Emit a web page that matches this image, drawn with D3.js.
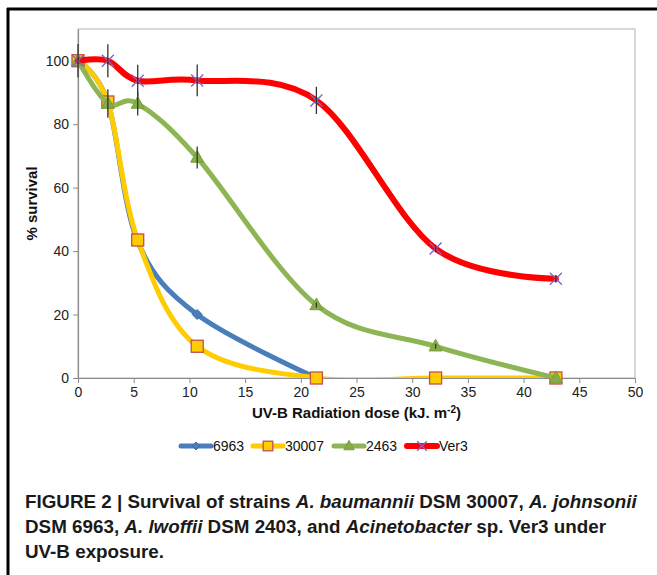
<!DOCTYPE html>
<html>
<head>
<meta charset="utf-8">
<script src="https://cdn.jsdelivr.net/npm/d3@7"></script>
<style>
  body { margin: 0; background: #fff; }
  svg { display: block; font-family: "Liberation Sans", Arial, Helvetica, sans-serif; }
</style>
</head>
<body>
<svg id="chart" width="657" height="575"></svg>
<script>
// ---- data ----
const doses = [0, 2.68, 5.36, 10.7, 21.4, 32.1, 42.9];
const s6963 = [100, 87, 43, 20, 0];
const s30007 = [100, 87, 43.5, 10, 0, 0, 0];
const s2463 = [100, 86.5, 86.5, 69.5, 23, 10, 0];
const sVer3 = [100, 100, 93.7, 93.8, 87.5, 40.8, 31.3];
const err2463 = [0, 4.5, 3.8, 3.5, 0.8, 0.8, 0];
const errVer3 = [5.3, 5.2, 5, 5, 4.3, 1.2, 1.2];
const seriesNames = ["6963", "30007", "2463", "Ver3"];
const xTicks = [0, 5, 10, 15, 20, 25, 30, 35, 40, 45, 50];
const yTicks = [0, 20, 40, 60, 80, 100];
const xTitle = "UV-B Radiation dose (kJ. m";
const yTitle = "% survival";

const svg = d3.select("#chart");
const W = 657, H = 575;

// frame
svg.append("line").attr("x1", 7).attr("x2", W).attr("y1", 9).attr("y2", 9)
  .attr("stroke", "#000").attr("stroke-width", 3);
svg.append("line").attr("x1", 8).attr("x2", 8).attr("y1", 8).attr("y2", H)
  .attr("stroke", "#000").attr("stroke-width", 3);

const x = d3.scaleLinear().domain([0, 50]).range([78, 635]);
const y = d3.scaleLinear().domain([0, 110]).range([378, 29]);

// plot area border
svg.append("rect").attr("x", x(0)).attr("y", y(110))
  .attr("width", x(50) - x(0)).attr("height", y(0) - y(110))
  .attr("fill", "none").attr("stroke", "#b3b3b3").attr("stroke-width", 1);

svg.append("clipPath").attr("id", "clip").append("rect")
  .attr("x", x(0) - 10).attr("y", y(110))
  .attr("width", x(50) - x(0) + 20).attr("height", y(0) - y(110));

// axes
const xAxis = d3.axisBottom(x).tickValues(xTicks).tickSize(5).tickSizeOuter(0).tickPadding(4);
const gx = svg.append("g").attr("transform", `translate(0,${y(0)})`).call(xAxis);
const yAxis = d3.axisLeft(y).tickValues(yTicks).tickSize(5).tickSizeOuter(0).tickPadding(4);
const gy = svg.append("g").attr("transform", `translate(${x(0)},0)`).call(yAxis);
[gx, gy].forEach(g => {
  g.select(".domain").attr("stroke", "#8c8c8c").attr("stroke-width", 1.2);
  g.selectAll(".tick line").attr("stroke", "#8c8c8c");
  g.selectAll(".tick text").attr("fill", "#222").attr("font-size", 14)
    .attr("font-family", "'Liberation Sans', Arial, sans-serif");
});

// axis titles
const xt = svg.append("text").attr("x", (x(0) + x(50)) / 2).attr("y", 418)
  .attr("text-anchor", "middle").attr("font-weight", "bold").attr("font-size", 15).attr("fill", "#111");
xt.append("tspan").text(xTitle);
xt.append("tspan").attr("dy", -5).attr("font-size", 10).text("-2");
xt.append("tspan").attr("dy", 5).text(")");

svg.append("text").attr("transform", `translate(37,${(y(0) + y(110)) / 2}) rotate(-90)`)
  .attr("text-anchor", "middle").attr("font-weight", "bold").attr("font-size", 15).attr("fill", "#111")
  .text(yTitle);

// styles
const styles = {
  "6963": { line: "#4A7EBB", width: 5, marker: "diamond", fill: "#4A7EBB", stroke: "#3f6fa8", size: 10 },
  "30007": { line: "#FFCC00", width: 5, marker: "square", fill: "#FFCC00", stroke: "#C0504D", size: 12 },
  "2463": { line: "#8DB554", width: 5, marker: "triangle", fill: "#86AD45", stroke: "#7a9e3f", size: 13 },
  "Ver3": { line: "#FF0000", width: 6, marker: "x", fill: "none", stroke: "#8064C8", size: 12 }
};
const valuesBy = { "6963": s6963, "30007": s30007, "2463": s2463, "Ver3": sVer3 };
const errBy = { "2463": err2463, "Ver3": errVer3 };

function drawMarker(g, type, cx, cy, st) {
  const s = st.size;
  if (type === "diamond") {
    g.append("path").attr("d", `M${cx},${cy - s / 2}L${cx + s / 2},${cy}L${cx},${cy + s / 2}L${cx - s / 2},${cy}Z`)
      .attr("fill", st.fill).attr("stroke", st.stroke).attr("stroke-width", 1);
  } else if (type === "square") {
    g.append("rect").attr("x", cx - s / 2).attr("y", cy - s / 2).attr("width", s).attr("height", s)
      .attr("fill", st.fill).attr("stroke", st.stroke).attr("stroke-width", 1.3);
  } else if (type === "triangle") {
    const h = s * 0.9;
    g.append("path").attr("d", `M${cx},${cy - h * 0.6}L${cx + s / 2},${cy + h * 0.4}L${cx - s / 2},${cy + h * 0.4}Z`)
      .attr("fill", st.fill).attr("stroke", st.stroke).attr("stroke-width", 1);
  } else if (type === "x") {
    const r = s / 2;
    g.append("path").attr("d", `M${cx - r},${cy - r}L${cx + r},${cy + r}M${cx - r},${cy + r}L${cx + r},${cy - r}`)
      .attr("stroke", st.stroke).attr("stroke-width", 1.4).attr("fill", "none");
  }
}

const line = d3.line().curve(d3.curveCardinal.tension(0)).x(d => x(d[0])).y(d => y(d[1]));

seriesNames.forEach(name => {
  const st = styles[name];
  const vals = valuesBy[name];
  const pts = vals.map((v, i) => [doses[i], v]);
  const g = svg.append("g");
  g.append("path").datum(pts).attr("d", line).attr("fill", "none")
    .attr("stroke", st.line).attr("stroke-width", st.width)
    .attr("stroke-linejoin", "round").attr("stroke-linecap", "round")
    .attr("clip-path", "url(#clip)");
  pts.forEach(p => drawMarker(g, st.marker, x(p[0]), y(p[1]), st));
  const errs = errBy[name];
  if (errs) {
    pts.forEach((p, i) => {
      if (errs[i] > 0) {
        g.append("line").attr("x1", x(p[0])).attr("x2", x(p[0]))
          .attr("y1", y(p[1] + errs[i])).attr("y2", y(p[1] - errs[i]))
          .attr("stroke", "#333").attr("stroke-width", 1.3);
      }
    });
  }
});

// legend
const legendX = [181, 253, 334, 407];
seriesNames.forEach((name, i) => {
  const st = styles[name];
  const g = svg.append("g");
  const lx = legendX[i], ly = 446;
  g.append("line").attr("x1", lx).attr("x2", lx + 30).attr("y1", ly).attr("y2", ly)
    .attr("stroke", st.line).attr("stroke-width", st.width).attr("stroke-linecap", "round");
  drawMarker(g, st.marker, lx + 15, ly, Object.assign({}, st, { size: st.size * 0.8 }));
  g.append("text").attr("x", lx + 32).attr("y", ly + 5).attr("font-size", 14).attr("fill", "#111").text(name);
});

// caption
const capLines = [
  [["FIGURE 2 | Survival of strains ", false], ["A. baumannii", true], [" DSM 30007, ", false], ["A. johnsonii", true]],
  [["DSM 6963, ", false], ["A. lwoffii", true], [" DSM 2403, and ", false], ["Acinetobacter", true], [" sp. Ver3 under", false]],
  [["UV-B exposure.", false]]
];
const capBase = [508, 533, 558];
const cap = svg.append("g").attr("font-weight", "bold").attr("fill", "#1a1a1a")
  .attr("font-family", "'Liberation Sans Narrow', 'Liberation Sans', Arial, sans-serif");
const capTexts = capLines.map((ln, i) => {
  const t = cap.append("text").attr("x", 25).attr("y", capBase[i]).attr("font-size", 17);
  ln.forEach(([s, it]) => t.append("tspan").attr("font-style", it ? "italic" : "normal").text(s));
  return t;
});
// fit first line width to ~612px
const w0 = capTexts[0].node().getComputedTextLength();
const fs = 17 * 612 / w0;
capTexts.forEach(t => t.attr("font-size", fs));
</script>
</body>
</html>
